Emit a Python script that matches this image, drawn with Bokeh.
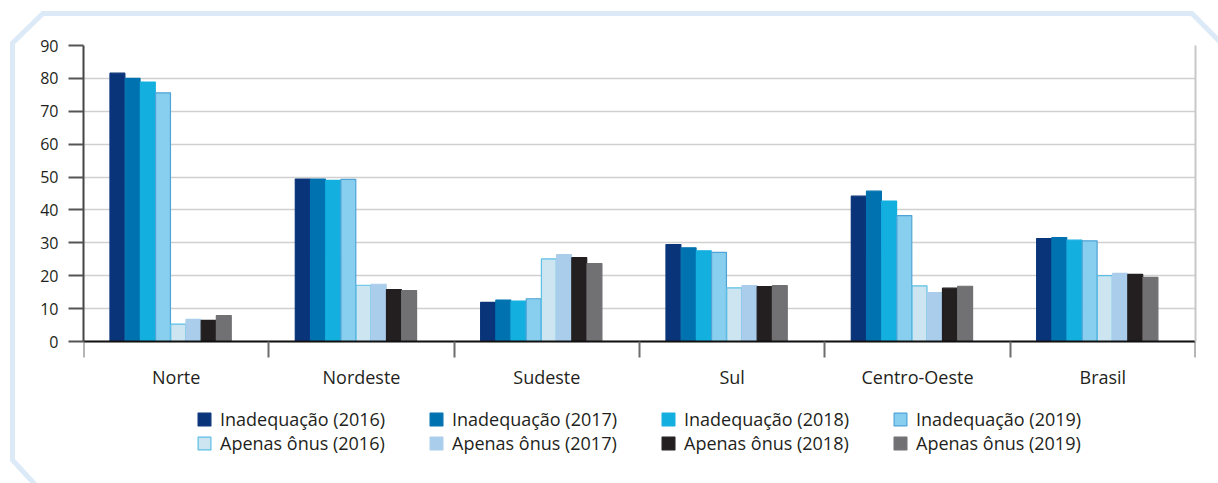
from bokeh.plotting import figure
from bokeh.models import (FixedTicker, Legend, LegendItem, InlineStyleSheet, LinearAxis,
                          ColumnDataSource, Range1d)
from bokeh.transform import dodge
from bokeh.embed import file_html
from bokeh.resources import INLINE

regions = ["Norte", "Nordeste", "Sudeste", "Sul", "Centro-Oeste", "Brasil"]
series_names = ["Inadequação (2016)", "Inadequação (2017)", "Inadequação (2018)", "Inadequação (2019)",
                "Apenas ônus (2016)", "Apenas ônus (2017)", "Apenas ônus (2018)", "Apenas ônus (2019)"]
inad_2016 = [81.6, 49.4, 11.9, 29.5, 44.2, 31.3]
inad_2017 = [80.0, 49.4, 12.6, 28.5, 45.7, 31.6]
inad_2018 = [78.9, 49.0, 12.3, 27.6, 42.7, 30.8]
inad_2019 = [75.6, 49.3, 13.0, 27.1, 38.3, 30.6]
onus_2016 = [5.3, 17.1, 25.1, 16.3, 16.9, 20.0]
onus_2017 = [6.7, 17.4, 26.4, 17.0, 14.9, 20.7]
onus_2018 = [6.4, 15.8, 25.5, 16.7, 16.2, 20.4]
onus_2019 = [7.9, 15.5, 23.7, 17.0, 16.8, 19.5]
y_ticks = [0, 10, 20, 30, 40, 50, 60, 70, 80, 90]

series_values = [inad_2016, inad_2017, inad_2018, inad_2019,
                 onus_2016, onus_2017, onus_2018, onus_2019]
fills = ["#0a347a", "#0072b0", "#13afdf", "#87ceef", "#cde5f0", "#abcdec", "#231f20", "#717174"]
lines = ["#0a347a", "#0072b0", "#13afdf", "#4fa3d6", "#5bc0e6", "#abcdec", "#231f20", "#717174"]

FONT = "Open Sans"
TXT = "#231f20"

svg_frame = ("<svg xmlns='http://www.w3.org/2000/svg' width='1218' height='483'>"
             "<polyline points='40,490 12.5,460 12.5,43 43,13.5 1192,13.5 1225,47' "
             "fill='none' stroke='%23dce9f6' stroke-width='5'/></svg>")
css = (":host { background-image: url(\"data:image/svg+xml;utf8," + svg_frame + "\");"
       " background-repeat: no-repeat; background-position: 0 0; }")

# frame spans from y=45px (value 90) to the bottom of the window; value 0 sits at y=341px
PX_PER_UNIT = 296 / 90
y_low = -(483 - 341) / PX_PER_UNIT

p = figure(frame_width=1112, frame_height=438, x_range=Range1d(0, 6), y_range=Range1d(y_low, 90),
           output_backend="svg", toolbar_location=None,
           min_border_left=83, min_border_right=23, min_border_top=45, min_border_bottom=0)
p.outline_line_color = None
p.background_fill_color = None
p.border_fill_color = None
p.stylesheets = [InlineStyleSheet(css=css)]

centers = [i + 0.5 for i in range(len(regions))]
data = {"x": centers}
for k, v in enumerate(series_values):
    data[f"s{k}"] = v
src = ColumnDataSource(data)

bw = 0.082
shift = -0.03
renderers = []
for k in range(8):
    off = shift + (k - 3.5) * bw
    r = p.vbar(x=dodge("x", off, range=p.x_range), top=f"s{k}", width=bw * 0.98, bottom=0,
               source=src, fill_color=fills[k], line_color=lines[k], line_width=1.2)
    renderers.append(r)

# x axis, pinned at value 0
xa = p.xaxis[0]
xa.fixed_location = 0
xa.ticker = FixedTicker(ticks=centers, minor_ticks=list(range(len(regions) + 1)))
xa.major_label_overrides = {c: r for c, r in zip(centers, regions)}
xa.major_tick_line_color = None
xa.major_tick_out = 0
xa.major_tick_in = 0
xa.minor_tick_out = 16
xa.minor_tick_in = 0
xa.minor_tick_line_color = "#6d6d6d"
xa.minor_tick_line_width = 2
xa.axis_line_color = "#111111"
xa.axis_line_width = 2
xa.major_label_standoff = 7
xa.major_label_text_font = FONT
xa.major_label_text_font_size = "18px"
xa.major_label_text_color = TXT

ya = p.yaxis[0]
ya.ticker = FixedTicker(ticks=y_ticks)
ya.bounds = (0, 90)
ya.major_tick_out = 15
ya.major_tick_in = 0
ya.major_tick_line_color = "#555555"
ya.major_tick_line_width = 2
ya.minor_tick_line_color = None
ya.axis_line_color = "#444444"
ya.axis_line_width = 2
ya.major_label_standoff = 10
ya.major_label_text_font = FONT
ya.major_label_text_font_size = "16px"
ya.major_label_text_color = TXT

ra = LinearAxis(bounds=(0, 90), ticker=FixedTicker(ticks=[]), axis_line_color="#c8c8c8",
                axis_line_width=2, major_tick_line_color=None, minor_tick_line_color=None,
                major_label_text_font_size="0px")
p.add_layout(ra, "right")

p.xgrid.grid_line_color = None
p.ygrid.grid_line_color = "#d0d0d0"
p.ygrid.grid_line_width = 1.5
p.ygrid.bounds = (0, 6)

items = [LegendItem(label=series_names[k], renderers=[renderers[k]]) for k in range(8)]
legend = Legend(items=items, ncols=4, orientation="horizontal", location=(113, 28),
                label_text_font=FONT, label_text_font_size="18px", label_text_color=TXT,
                glyph_width=16, glyph_height=16, label_standoff=8, label_height=24,
                label_width=208, spacing=0, padding=0, margin=0, border_line_color=None,
                background_fill_alpha=0)
p.add_layout(legend)

open("out.html", "w").write(file_html(p, INLINE))
